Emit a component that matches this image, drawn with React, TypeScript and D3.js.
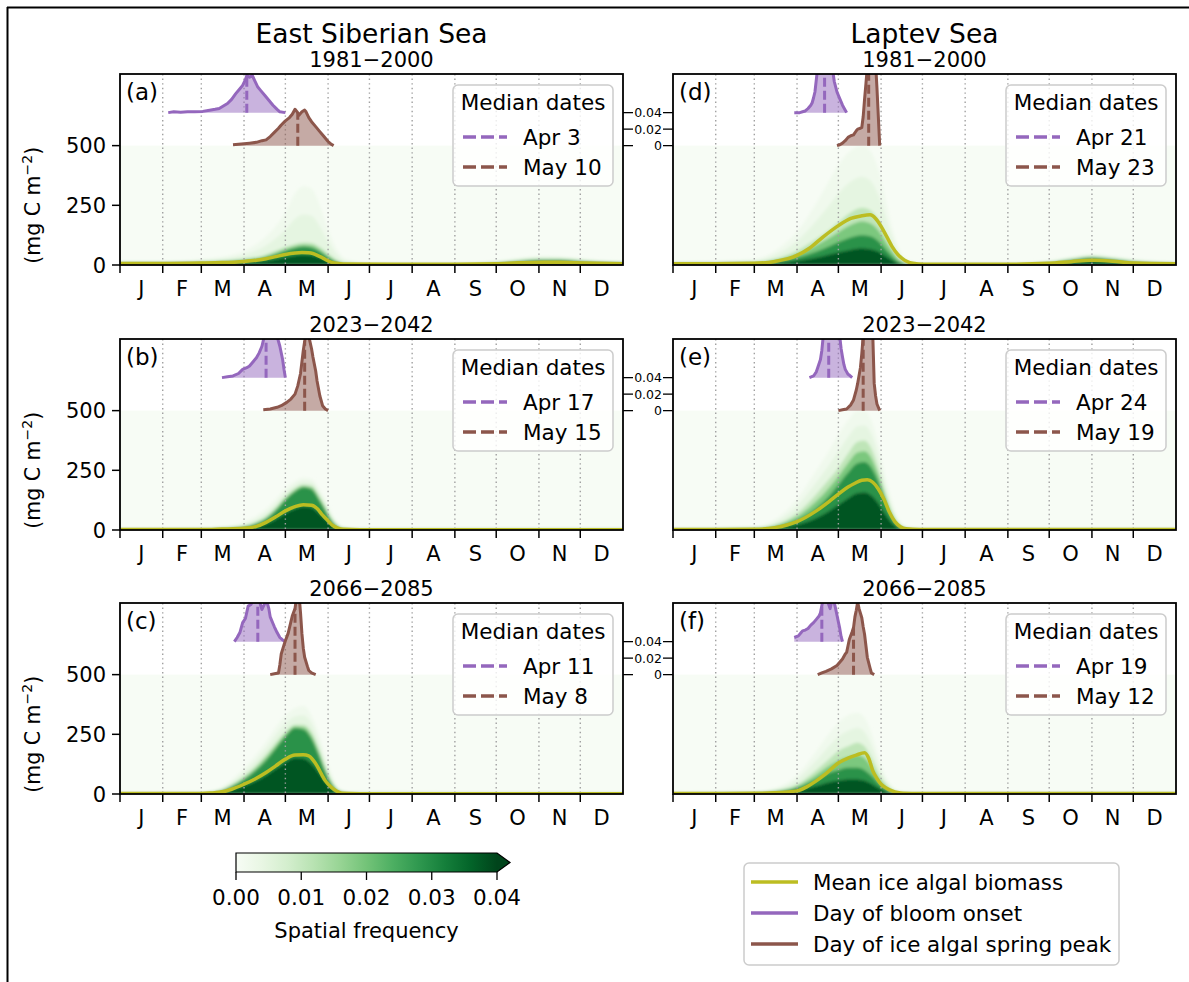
import React from "react";
import * as d3 from "d3";

// ---------- categories / labels ----------
const MONTH_LABELS = ["J", "F", "M", "A", "M", "J", "J", "A", "S", "O", "N", "D"];
const MONTH_STARTS = [1, 32, 60, 91, 121, 152, 182, 213, 244, 274, 305, 335];
const Y_TICKS = [0, 250, 500];
const HIST_TICKS = [0, 0.02, 0.04];
const CBAR_TICKS = [0, 0.01, 0.02, 0.03, 0.04];
const REGIONS = ["East Siberian Sea", "Laptev Sea"];
const PERIODS = ["1981−2000", "2023−2042", "2066−2085"];
const PANEL_LETTERS = [["(a)", "(b)", "(c)"], ["(d)", "(e)", "(f)"]];
const ONSET_MEDIANS = [["Apr 3", "Apr 17", "Apr 11"], ["Apr 21", "Apr 24", "Apr 19"]];
const PEAK_MEDIANS = [["May 10", "May 15", "May 8"], ["May 23", "May 19", "May 12"]];
const LEGEND_LABELS = ["Mean ice algal biomass", "Day of bloom onset", "Day of ice algal spring peak"];

// ---------- mean ice algal biomass [day, mg C m-2] ----------
const essMean1981 = [[1,6],[32,6],[60,8],[75,10],[91,15],[100,20],[107,26],[114,35],[121,44],[128,50],[133,52],[138,51],[141,48],[145,38],[148,30],[151,20],[154,12],[158,7],[163,4],[200,3],[244,3],[274,5],[290,9],[308,12],[320,11],[337,8],[366,5]];
const essMean2023 = [[1,2],[60,2],[75,4],[91,7],[100,15],[107,32],[114,55],[121,80],[128,98],[134,106],[140,104],[144,90],[148,62],[152,38],[155,20],[159,8],[163,3],[175,1],[366,1]];
const essMean2066 = [[1,2],[60,2],[67,4],[73,7],[82,20],[91,41],[99,63],[107,90],[114,118],[121,146],[128,163],[134,164],[138,160],[141,143],[144,118],[147,85],[150,55],[154,30],[158,13],[162,3],[175,1],[366,1]];
const lapMean1981 = [[1,5],[32,5],[60,7],[75,15],[91,40],[100,70],[110,118],[121,165],[130,195],[138,206],[144,210],[148,195],[152,162],[156,120],[160,77],[164,45],[167,29],[171,14],[175,7],[183,3],[244,3],[274,7],[290,14],[305,20],[320,16],[335,8],[366,5]];
const lapMean2023 = [[1,2],[60,3],[75,10],[91,35],[105,80],[114,118],[121,150],[128,180],[133,196],[138,208],[142,210],[146,200],[150,172],[154,130],[158,75],[162,35],[166,14],[170,5],[180,2],[366,2]];
const lapMean2066 = [[1,2],[60,3],[75,5],[91,13],[98,30],[105,55],[112,85],[121,130],[128,150],[134,163],[140,173],[143,150],[146,97],[149,65],[152,41],[156,24],[160,13],[164,6],[168,3],[180,2],[366,2]];

// ---------- spatial-frequency envelopes [day, dark core top, medium top, faint top] ----------
const essDens1981 = [[1,8,10,15],[32,8,10,15],[60,10,14,25],[75,12,18,35],[91,18,26,60],[105,28,40,110],[115,45,62,170],[121,58,75,220],[128,70,88,300],[134,76,94,330],[140,72,92,320],[146,55,75,250],[152,30,48,150],[158,12,22,70],[165,4,8,25],[182,2,4,8],[244,2,4,8],[274,6,10,18],[290,14,20,30],[305,20,26,38],[320,20,26,36],[335,14,20,28],[350,10,14,20],[366,8,10,15]];
const essDens2023 = [[1,2,3,5],[60,3,5,8],[75,5,8,15],[91,12,18,35],[100,25,35,60],[107,45,58,90],[114,80,95,130],[121,125,140,175],[128,160,175,205],[134,178,190,220],[140,170,185,215],[146,120,140,170],[150,80,100,130],[154,40,55,80],[158,15,25,40],[163,4,8,15],[175,2,3,5],[366,2,3,5]];
const essDens2066 = [[1,2,3,5],[60,3,5,8],[73,10,15,25],[82,30,40,60],[91,60,75,110],[99,95,115,160],[107,140,165,220],[114,190,215,280],[121,240,260,330],[128,275,290,360],[134,270,290,370],[140,230,260,330],[146,150,180,240],[150,90,115,160],[155,35,50,80],[160,10,15,25],[168,3,5,8],[366,2,3,5]];
const lapDens1981 = [[1,6,8,12],[60,8,12,25],[75,14,25,60],[91,30,60,140],[105,55,110,260],[115,80,150,360],[121,95,180,420],[130,115,220,480],[138,125,240,500],[144,120,230,480],[150,100,190,400],[156,60,120,260],[160,35,75,160],[165,12,30,70],[172,4,8,20],[182,2,4,8],[244,2,4,8],[274,8,12,20],[290,20,26,36],[305,30,36,48],[320,22,28,38],[335,12,18,26],[366,6,8,12]];
const lapDens2023 = [[1,2,4,6],[60,4,8,14],[75,12,22,45],[91,40,70,130],[105,90,150,250],[114,140,210,330],[121,190,260,400],[128,240,320,460],[135,280,370,500],[140,285,375,500],[145,260,340,460],[150,200,260,360],[155,120,160,230],[160,50,75,120],[165,15,25,45],[172,4,6,12],[182,2,4,6],[366,2,4,6]];
const lapDens2066 = [[1,2,4,6],[60,4,6,10],[75,8,14,25],[91,25,40,80],[105,60,100,180],[115,90,150,260],[121,100,180,300],[128,110,200,330],[135,110,215,340],[140,100,200,320],[146,70,140,240],[150,45,90,160],[155,20,45,80],[160,8,18,35],[166,3,6,12],[175,2,4,6],[366,2,4,6]];

// ---------- distributions of bloom onset day [day, frequency] ----------
const essOnset1981 = [[36,0],[40,0.001],[45,0.0005],[50,0.001],[55,0.001],[61,0.0015],[66,0.003],[70,0.004],[73,0.005],[76,0.008],[79,0.011],[82,0.016],[85,0.023],[88,0.029],[90,0.033],[92,0.040],[93,0.045],[95,0.043],[97,0.045],[99,0.038],[101,0.031],[103,0.027],[106,0.021],[109,0.015],[112,0.009],[115,0.004],[117,0.001],[121,0]];
const essOnset2023 = [[75,0],[79,0.001],[83,0.002],[87,0.005],[90,0.010],[93,0.012],[95,0.014],[97,0.018],[100,0.024],[102,0.030],[104,0.038],[106,0.052],[108,0.060],[111,0.062],[113,0.058],[115,0.050],[117,0.038],[119,0.022],[120,0.010],[121,0]];
const essOnset2066 = [[84,0],[86,0.005],[88,0.011],[90,0.023],[92,0.028],[94,0.043],[96,0.045],[98,0.052],[100,0.055],[102,0.050],[104,0.039],[106,0.046],[107,0.052],[109,0.040],[110,0.030],[112,0.022],[113,0.018],[115,0.011],[117,0.005],[119,0.002],[121,0]];
const lapOnset1981 = [[89,0],[93,0],[95,0.001],[97,0.002],[99,0.005],[101,0.009],[102,0.012],[103,0.018],[104,0.025],[105,0.040],[106,0.055],[108,0.065],[110,0.068],[112,0.066],[114,0.070],[116,0.062],[117,0.050],[118,0.038],[120,0.025],[122,0.017],[124,0.009],[126,0.003],[127,0]];
const lapOnset2023 = [[100,0],[103,0.002],[105,0.007],[106,0.012],[108,0.022],[109,0.033],[110,0.050],[112,0.065],[115,0.070],[118,0.068],[121,0.060],[122,0.050],[123,0.035],[124,0.025],[125,0.016],[126,0.010],[128,0.004],[129,0.003],[131,0]];
const lapOnset2066 = [[89,0.005],[92,0.007],[94,0.011],[95,0.013],[97,0.014],[99,0.016],[101,0.020],[103,0.023],[105,0.027],[107,0.031],[108,0.035],[110,0.052],[112,0.055],[113,0.050],[115,0.040],[116,0.048],[117,0.055],[119,0.040],[120,0.032],[121,0.024],[122,0.016],[123,0.006],[124,0]];

// ---------- distributions of spring peak day [day, frequency] ----------
const essPeak1981 = [[83,0.001],[89,0.002],[95,0.003],[100,0.004],[104,0.006],[107,0.007],[110,0.011],[113,0.016],[116,0.021],[118,0.025],[121,0.030],[124,0.034],[126,0.038],[128,0.044],[130,0.040],[131,0.037],[133,0.041],[135,0.043],[136,0.041],[138,0.034],[140,0.029],[143,0.023],[146,0.017],[149,0.011],[152,0.005],[154,0.002],[156,0]];
const essPeak2023 = [[105,0.001],[110,0.002],[115,0.004],[118,0.006],[122,0.010],[125,0.014],[128,0.020],[130,0.030],[132,0.045],[134,0.073],[136,0.095],[138,0.090],[140,0.075],[141,0.065],[143,0.048],[144,0.036],[146,0.018],[148,0.006],[150,0.002],[152,0]];
const essPeak2066 = [[110,0],[113,0.001],[116,0.002],[117,0.012],[118,0.025],[120,0.036],[121,0.041],[123,0.050],[124,0.057],[126,0.071],[128,0.080],[129,0.092],[131,0.095],[132,0.075],[133,0.050],[134,0.032],[135,0.021],[137,0.010],[138,0.005],[140,0.002],[143,0]];
const lapPeak1981 = [[120,0],[122,0.001],[124,0.003],[126,0.006],[128,0.010],[130,0.012],[132,0.013],[134,0.018],[135,0.020],[137,0.021],[138,0.022],[139,0.035],[140,0.056],[141,0.075],[142,0.095],[144,0.110],[146,0.105],[148,0.100],[149,0.070],[150,0.035],[151,0]];
const lapPeak2023 = [[121,0],[124,0.001],[127,0.002],[130,0.007],[132,0.013],[134,0.025],[135,0.033],[137,0.052],[138,0.069],[139,0.090],[141,0.110],[143,0.120],[145,0.110],[146,0.090],[147,0.033],[148,0.018],[149,0.008],[151,0]];
const lapPeak2066 = [[106,0],[109,0.002],[112,0.004],[116,0.007],[120,0.011],[122,0.015],[124,0.019],[126,0.025],[127,0.027],[128,0.035],[129,0.043],[131,0.052],[132,0.057],[133,0.070],[134,0.078],[135,0.088],[136,0.080],[138,0.069],[139,0.058],[140,0.049],[141,0.035],[142,0.021],[144,0.008],[145,0.002],[147,0]];

const MEANS = [[essMean1981, essMean2023, essMean2066], [lapMean1981, lapMean2023, lapMean2066]];
const DENS = [[essDens1981, essDens2023, essDens2066], [lapDens1981, lapDens2023, lapDens2066]];
const ONSETS = [[essOnset1981, essOnset2023, essOnset2066], [lapOnset1981, lapOnset2023, lapOnset2066]];
const PEAKS = [[essPeak1981, essPeak2023, essPeak2066], [lapPeak1981, lapPeak2023, lapPeak2066]];

const C_MEAN = "#bcbd22";
const C_ONSET = "#9467bd";
const C_PEAK = "#8c564b";
const FONT = "DejaVu Sans, sans-serif";

const parseDate = d3.timeParse("%b %d %Y");
function dayOfYear(label: string): number {
  const d = parseDate(label + " 2001") as Date;
  return d3.timeDay.count(d3.timeYear(d), d) + 1;
}
function valueAt(data: number[][], day: number): number {
  for (let i = 0; i < data.length - 1; i++) {
    const [d0, v0] = data[i];
    const [d1, v1] = data[i + 1];
    if (day >= d0 && day <= d1) return v0 + ((v1 - v0) * (day - d0)) / (d1 - d0);
  }
  return 0;
}

const COL_X = [120, 673];
const AX_W = 503;
const ROW_TOP = [74, 339, 603];
const AX_H = 191;

function Panel({ c, r }: { c: number; r: number }) {
  const left = COL_X[c];
  const top = ROW_TOP[r];
  const bottom = top + AX_H;
  const right = left + AX_W;
  const x = d3.scaleLinear().domain([1, 366]).range([left, right]);
  const y = d3.scaleLinear().domain([0, 800]).range([bottom, top]);
  const y500 = y(500);
  const yH = d3.scaleLinear().domain([0, 0.04]).range([y500, y500 - 33]);
  const green = d3.scaleSequential(d3.interpolateGreens).domain([0, 0.04]);
  const id = `p${c}${r}`;
  const dens = DENS[c][r];

  const layers: { f: (d: number[]) => number; col: string }[] = [
    { f: (d) => d[3], col: green(0.0018) },
    { f: (d) => (d[3] + d[2]) / 2, col: green(0.0045) },
    { f: (d) => d[2], col: green(0.011) },
    { f: (d) => (d[2] + d[1]) / 2, col: green(0.019) },
    { f: (d) => d[1], col: green(0.029) },
    { f: (d) => d[1] * 0.55, col: green(0.038) },
  ];

  const meanLine = d3
    .line<number[]>()
    .x((d) => x(d[0]))
    .y((d) => y(d[1]))
    .curve(d3.curveMonotoneX);

  const histArea = (data: number[][], off: number) =>
    d3
      .area<number[]>()
      .x((d) => x(d[0]))
      .y0(yH(off))
      .y1((d) => yH(off + d[1]))(data) as string;
  const histLine = (data: number[][], off: number) =>
    d3
      .line<number[]>()
      .x((d) => x(d[0]))
      .y((d) => yH(off + d[1]))(data) as string;

  const onset = ONSETS[c][r];
  const peak = PEAKS[c][r];
  const onsetDay = dayOfYear(ONSET_MEDIANS[c][r]);
  const peakDay = dayOfYear(PEAK_MEDIANS[c][r]);

  const legX = right - 170;
  const legY = top + 11;

  return (
    <g>
      <defs>
        <clipPath id={`clip-${id}`}>
          <rect x={left} y={top} width={AX_W} height={AX_H} />
        </clipPath>
        <clipPath id={`dclip-${id}`}>
          <rect x={left} y={y500} width={AX_W} height={bottom - y500} />
        </clipPath>
      </defs>
      {/* density background */}
      <rect x={left} y={y500} width={AX_W} height={bottom - y500} fill={green(0)} />
      <g clipPath={`url(#dclip-${id})`}>
        <g filter="url(#soft)">
          {layers.map((L, i) => (
            <path
              key={i}
              d={
                d3
                  .area<number[]>()
                  .x((d) => x(d[0]))
                  .y0(y(0))
                  .y1((d) => y(L.f(d)))
                  .curve(d3.curveMonotoneX)(dens) as string
              }
              fill={L.col}
            />
          ))}
        </g>
      </g>
      {/* grid */}
      {MONTH_STARTS.slice(1).map((m) => (
        <line key={m} x1={x(m)} x2={x(m)} y1={top} y2={bottom} stroke="#a0a0a0" strokeWidth={1.4} strokeDasharray="1.4,3.2" />
      ))}
      <g clipPath={`url(#clip-${id})`}>
        <path d={meanLine(MEANS[c][r]) as string} fill="none" stroke={C_MEAN} strokeWidth={3.5} />
        {/* distributions */}
        <path d={histArea(onset, 0.04)} fill={C_ONSET} fillOpacity={0.5} />
        <path d={histLine(onset, 0.04)} fill="none" stroke={C_ONSET} strokeWidth={3} strokeLinejoin="round" />
        <line x1={x(onsetDay)} x2={x(onsetDay)} y1={yH(0.04)} y2={yH(0.04 + valueAt(onset, onsetDay))} stroke={C_ONSET} strokeWidth={3} strokeDasharray="9,4" />
        <path d={histArea(peak, 0)} fill={C_PEAK} fillOpacity={0.5} />
        <path d={histLine(peak, 0)} fill="none" stroke={C_PEAK} strokeWidth={3} strokeLinejoin="round" />
        <line x1={x(peakDay)} x2={x(peakDay)} y1={yH(0)} y2={yH(valueAt(peak, peakDay))} stroke={C_PEAK} strokeWidth={3} strokeDasharray="9,4" />
      </g>
      {/* frame */}
      <rect x={left} y={top} width={AX_W} height={AX_H} fill="none" stroke="black" strokeWidth={1.8} />
      {/* x ticks */}
      {MONTH_STARTS.map((m) => (
        <line key={m} x1={x(m)} x2={x(m)} y1={bottom} y2={bottom + 8} stroke="black" strokeWidth={1.5} />
      ))}
      {MONTH_LABELS.map((lab, i) => {
        const mid = (MONTH_STARTS[i] + (i < 11 ? MONTH_STARTS[i + 1] : 366)) / 2;
        return (
          <text key={i} x={x(mid)} y={bottom + 31} textAnchor="middle" fontSize={21} fontFamily={FONT}>
            {lab}
          </text>
        );
      })}
      {/* y ticks (left column only) */}
      {c === 0 &&
        Y_TICKS.map((t) => (
          <g key={t}>
            <line x1={left - 8} x2={left} y1={y(t)} y2={y(t)} stroke="black" strokeWidth={1.5} />
            <text x={left - 14} y={y(t)} dy="0.36em" textAnchor="end" fontSize={21} fontFamily={FONT}>
              {t}
            </text>
          </g>
        ))}
      {c === 0 && (
        <text transform={`translate(40,${y(250)}) rotate(-90)`} textAnchor="middle" fontSize={20.5} fontFamily={FONT}>
          (mg C m
          <tspan dy={-8} fontSize={14}>−2</tspan>
          <tspan dy={8}>)</tspan>
        </text>
      )}
      {/* histogram axis */}
      {HIST_TICKS.map((t) =>
        c === 0 ? (
          <line key={t} x1={right} x2={right + 10} y1={yH(t)} y2={yH(t)} stroke="black" strokeWidth={1.3} />
        ) : (
          <g key={t}>
            <line x1={left - 10} x2={left} y1={yH(t)} y2={yH(t)} stroke="black" strokeWidth={1.3} />
            <text x={left - 11} y={yH(t)} dy="0.36em" textAnchor="end" fontSize={12.5} fontFamily={FONT}>
              {t === 0 ? "0" : d3.format(".2f")(t)}
            </text>
          </g>
        )
      )}
      {/* panel letter */}
      <text x={left + 6} y={top + 26} fontSize={23} fontFamily={FONT}>
        {PANEL_LETTERS[c][r]}
      </text>
      {/* period title */}
      <text x={(left + right) / 2} y={top - 7} textAnchor="middle" fontSize={21} fontFamily={FONT}>
        {PERIODS[r]}
      </text>
      {/* legend */}
      <rect x={legX} y={legY} width={160} height={101} rx={5} fill="white" fillOpacity={0.8} stroke="#cccccc" strokeWidth={1.5} />
      <text x={legX + 80} y={legY + 25} textAnchor="middle" fontSize={21.5} fontFamily={FONT}>
        Median dates
      </text>
      {[
        { col: C_ONSET, lab: ONSET_MEDIANS[c][r] },
        { col: C_PEAK, lab: PEAK_MEDIANS[c][r] },
      ].map((e, i) => (
        <g key={i}>
          <line x1={legX + 10} x2={legX + 54} y1={legY + 52 + i * 30} y2={legY + 52 + i * 30} stroke={e.col} strokeWidth={3.5} strokeDasharray="13,5" />
          <text x={legX + 70} y={legY + 52 + i * 30} dy="0.36em" fontSize={21.5} fontFamily={FONT}>
            {e.lab}
          </text>
        </g>
      ))}
    </g>
  );
}

export default function App() {
  const W = 1189;
  const H = 982;
  const green = d3.scaleSequential(d3.interpolateGreens).domain([0, 0.04]);
  const cx = d3.scaleLinear().domain([0, 0.04]).range([236, 497]);
  const stops = d3.range(0, 1.0001, 0.1);
  return (
    <svg width={W} height={H} style={{ position: "absolute", left: 0, top: 0, background: "white" }}>
      <defs>
        <filter id="soft" x="-5%" y="-5%" width="110%" height="110%">
          <feGaussianBlur stdDeviation="1.6" />
        </filter>
        <linearGradient id="cbar" x1="0" x2="1" y1="0" y2="0">
          {stops.map((s) => (
            <stop key={s} offset={s} stopColor={green(s * 0.04)} />
          ))}
        </linearGradient>
      </defs>
      <rect x={0} y={0} width={W} height={H} fill="white" />
      {/* outer frame */}
      <line x1={7} x2={W} y1={7.5} y2={7.5} stroke="black" strokeWidth={2} />
      <line x1={7.5} x2={7.5} y1={7} y2={H} stroke="black" strokeWidth={2} />
      {REGIONS.map((name, c) => (
        <text key={name} x={COL_X[c] + AX_W / 2} y={43} textAnchor="middle" fontSize={26.5} fontFamily={FONT}>
          {name}
        </text>
      ))}
      {[0, 1].map((c) => [0, 1, 2].map((r) => <Panel key={`${c}${r}`} c={c} r={r} />))}
      {/* colorbar */}
      <rect x={cx(0)} y={853} width={cx(0.04) - cx(0)} height={19} fill="url(#cbar)" />
      <path d={`M${cx(0.04)},853 L${cx(0.04) + 13},862.5 L${cx(0.04)},872 Z`} fill={green(0.04)} />
      <path d={`M${cx(0)},853 L${cx(0.04)},853 L${cx(0.04) + 13},862.5 L${cx(0.04)},872 L${cx(0)},872 Z`} fill="none" stroke="black" strokeWidth={1.2} />
      {CBAR_TICKS.map((t) => (
        <g key={t}>
          <line x1={cx(t)} x2={cx(t)} y1={872} y2={880} stroke="black" strokeWidth={1.3} />
          <text x={cx(t)} y={905} textAnchor="middle" fontSize={21.5} fontFamily={FONT}>
            {d3.format(".2f")(t)}
          </text>
        </g>
      ))}
      <text x={(cx(0) + cx(0.04)) / 2} y={938} textAnchor="middle" fontSize={21} fontFamily={FONT}>
        Spatial frequency
      </text>
      {/* bottom legend */}
      <rect x={744} y={863} width={375} height={102} rx={5} fill="white" stroke="#cccccc" strokeWidth={1.5} />
      {[C_MEAN, C_ONSET, C_PEAK].map((col, i) => (
        <g key={i}>
          <line x1={751} x2={798} y1={882 + i * 31} y2={882 + i * 31} stroke={col} strokeWidth={3.5} />
          <text x={813} y={882 + i * 31} dy="0.36em" fontSize={21.4} fontFamily={FONT}>
            {LEGEND_LABELS[i]}
          </text>
        </g>
      ))}
    </svg>
  );
}
